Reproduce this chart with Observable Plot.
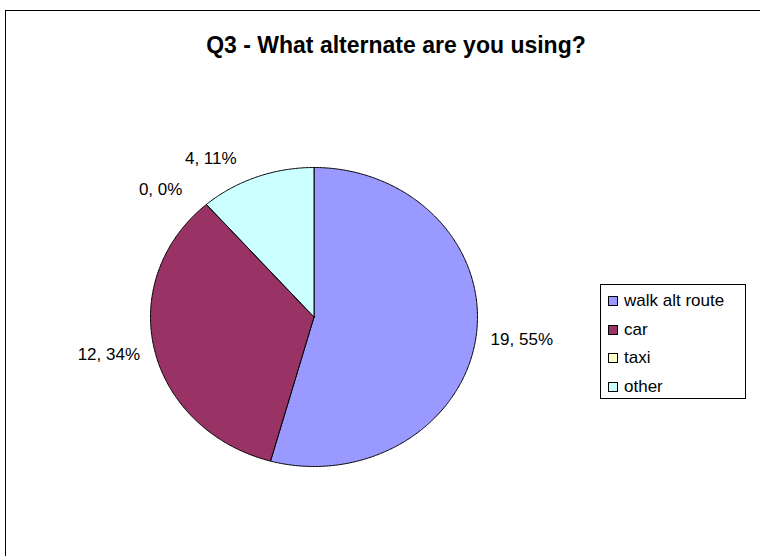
<!DOCTYPE html>
<html><head><meta charset="utf-8">
<script src="https://cdn.jsdelivr.net/npm/d3@7"></script>
<script src="https://cdn.jsdelivr.net/npm/@observablehq/plot@0.6"></script>
<style>
html,body{margin:0;padding:0;background:#fff;overflow:hidden;width:760px;height:556px;}
#frame{position:absolute;left:5px;top:10px;width:800px;height:600px;border:1px solid #000;box-sizing:border-box;}
#chart{position:absolute;left:0;top:0;}
#title{position:absolute;left:0;top:31px;width:792px;text-align:center;font:bold 23px "Liberation Sans",Arial,sans-serif;color:#000;line-height:28px;}
#legend{position:absolute;left:600px;top:284px;width:146px;height:115px;border:1px solid #000;box-sizing:border-box;background:#fff;font:17px "Liberation Sans",Arial,sans-serif;padding-top:2px;}
.row{display:flex;align-items:center;height:28.5px;padding-left:7px;}
.sw{width:10px;height:10px;border:1px solid #000;box-sizing:border-box;margin-right:6px;}
</style>
</head><body>
<div id="frame"></div>
<div id="chart"></div>
<div id="title"></div>
<div id="legend"></div>
<script>
const titleText = "Q3 - What alternate are you using?";
const categories = ["walk alt route", "car", "taxi", "other"];
const values = [19, 12, 0, 4];
const percentLabels = [55, 34, 0, 11];
const colors = ["#9999FF", "#993366", "#FFFFCC", "#CCFFFF"];

document.getElementById("title").textContent = titleText;

const arcs = d3.pie().sort(null)(values);
const slicePts = [];
arcs.forEach((a, i) => {
  const name = categories[i];
  slicePts.push({name, x: 0, y: 0});
  const n = Math.max(1, Math.ceil((a.endAngle - a.startAngle) / (Math.PI / 360)));
  for (let k = 0; k <= n; k++) {
    const t = a.startAngle + (a.endAngle - a.startAngle) * k / n;
    slicePts.push({name, x: Math.sin(t), y: Math.cos(t)});
  }
  slicePts.push({name, x: 0, y: 0});
});

const labels = arcs.map((a, i) => {
  const m = (a.startAngle + a.endAngle) / 2;
  const sx = Math.sin(m), sy = Math.cos(m);
  return {
    text: `${values[i]}, ${percentLabels[i]}%`,
    x: sx + Math.sign(sx) * 0.28,
    y: sy * 1.13
  };
});

const plot = Plot.plot({
  width: 760,
  height: 556,
  marginLeft: 150,
  marginRight: 283,
  marginTop: 167,
  marginBottom: 90,
  x: {domain: [-1, 1], axis: null},
  y: {domain: [-1, 1], axis: null},
  color: {domain: categories, range: colors},
  style: {background: "transparent", overflow: "visible"},
  marks: [
    Plot.line(slicePts, {x: "x", y: "y", z: "name", fill: "name", stroke: "#000", strokeWidth: 1, strokeLinejoin: "round"}),
    Plot.text(labels, {x: "x", y: "y", text: "text", fontSize: 17, fill: "#000", fontFamily: "Liberation Sans, Arial, sans-serif", textAnchor: "middle"})
  ]
});
document.getElementById("chart").appendChild(plot);

const legend = document.getElementById("legend");
categories.forEach((c, i) => {
  const row = document.createElement("div");
  row.className = "row";
  const sw = document.createElement("div");
  sw.className = "sw";
  sw.style.background = colors[i];
  const lab = document.createElement("span");
  lab.textContent = c;
  row.appendChild(sw);
  row.appendChild(lab);
  legend.appendChild(row);
});
</script>
</body></html>
